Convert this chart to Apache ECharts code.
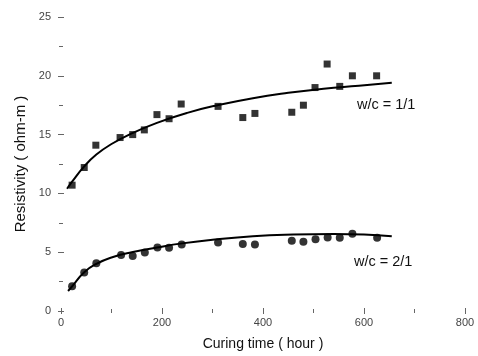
<!DOCTYPE html>
<html>
<head>
<meta charset="utf-8">
<script src="https://cdn.jsdelivr.net/npm/echarts@6/dist/echarts.min.js"></script>
<style>
  html, body { margin: 0; padding: 0; background: #fff; }
  #chart { width: 478px; height: 356px; }
</style>
</head>
<body>
<div id="chart"></div>
<script>
// measured points, w/c = 1/1 (squares)
const hours11 = [22, 46, 69, 117, 142, 165, 190, 214, 238, 311, 360, 384, 457, 480, 503, 527, 552, 577, 625];
const res11 = [10.7, 12.2, 14.1, 14.75, 15.0, 15.4, 16.7, 16.35, 17.6, 17.4, 16.45, 16.8, 16.9, 17.5, 19.0, 21.0, 19.1, 20.0, 20.0];

// measured points, w/c = 2/1 (circles)
const hours21 = [22, 46, 70, 119, 142, 166, 191, 214, 239, 311, 360, 384, 457, 480, 504, 528, 552, 577, 626];
const res21 = [2.1, 3.27, 4.05, 4.76, 4.67, 4.98, 5.4, 5.38, 5.66, 5.83, 5.69, 5.66, 5.97, 5.89, 6.11, 6.25, 6.22, 6.56, 6.22];

// fitted curves
const fitHours11 = [12, 22, 46, 70, 100, 140, 190, 250, 310, 380, 450, 520, 590, 655];
const fitRes11 = [10.4, 11.0, 12.3, 13.3, 14.2, 15.1, 16.0, 16.85, 17.5, 18.1, 18.55, 18.9, 19.15, 19.4];
const fitHours21 = [14, 22, 46, 70, 100, 140, 190, 240, 300, 380, 460, 540, 600, 655];
const fitRes21 = [1.7, 2.1, 3.3, 4.0, 4.55, 5.0, 5.4, 5.75, 6.05, 6.35, 6.5, 6.55, 6.5, 6.35];

const xTicks = [0, 200, 400, 600, 800];
const yTicks = [0, 5, 10, 15, 20, 25];

const zip = (xs, ys) => xs.map((x, i) => [x, ys[i]]);

const chart = echarts.init(document.getElementById("chart"));

const tickStyle = { color: "#666", width: 1 };
const labelStyle = { color: "#444", fontSize: 11, fontFamily: "Liberation Sans" };
const titleFont = { color: "#111", fontSize: 14, fontFamily: "Liberation Sans" };

const baseX = {
  type: "value",
  min: 0,
  max: 800,
  interval: 200,
  axisLine: { show: false },
  axisTick: { show: true, inside: true, length: 3, lineStyle: tickStyle },
  minorTick: { show: true, splitNumber: 2, length: 2, lineStyle: tickStyle },
  splitLine: { show: false },
};
const baseY = {
  type: "value",
  min: 0,
  max: 25,
  interval: 5,
  axisLine: { show: false },
  axisTick: { show: true, inside: true, length: 3, lineStyle: tickStyle },
  minorTick: { show: true, splitNumber: 2, length: 2, lineStyle: tickStyle },
  splitLine: { show: false },
};

chart.setOption({
  backgroundColor: "#fff",
  animation: false,
  grid: { left: 61, right: 13, top: 17, bottom: 43 },
  xAxis: [
    {
      ...baseX,
      position: "bottom",
      name: "Curing time ( hour )",
      nameLocation: "middle",
      nameGap: 26,
      nameTextStyle: titleFont,
      axisLabel: {
        ...labelStyle,
        margin: 6,
        formatter: (v) => (xTicks.includes(v) ? String(v) : ""),
      },
    },
    { ...baseX, position: "top", axisLabel: { show: false } },
  ],
  yAxis: [
    {
      ...baseY,
      position: "left",
      name: "Resistivity ( ohm-m )",
      nameLocation: "middle",
      nameGap: 33,
      nameTextStyle: { ...titleFont, fontSize: 15 },
      axisLabel: {
        ...labelStyle,
        margin: 10,
        formatter: (v) => (yTicks.includes(v) ? String(v) : ""),
      },
    },
    { ...baseY, position: "right", axisLabel: { show: false } },
  ],
  graphic: [
    {
      type: "text",
      left: 357,
      top: 97,
      style: { text: "w/c = 1/1", fill: "#111", fontSize: 14.5, fontFamily: "Liberation Sans" },
    },
    {
      type: "text",
      left: 354,
      top: 254,
      style: { text: "w/c = 2/1", fill: "#111", fontSize: 14.5, fontFamily: "Liberation Sans" },
    },
  ],
  series: [
    {
      type: "line",
      data: zip(fitHours11, fitRes11),
      smooth: 0.5,
      showSymbol: false,
      lineStyle: { color: "#000", width: 2 },
    },
    {
      type: "line",
      data: zip(fitHours21, fitRes21),
      smooth: 0.5,
      showSymbol: false,
      lineStyle: { color: "#000", width: 2 },
    },
    {
      type: "scatter",
      data: zip(hours11, res11),
      symbol: "rect",
      symbolSize: 7,
      itemStyle: { color: "#000" },
    },
    {
      type: "scatter",
      data: zip(hours21, res21),
      symbol: "circle",
      symbolSize: 8,
      itemStyle: { color: "#000" },
    },
  ],
});
</script>
</body>
</html>
